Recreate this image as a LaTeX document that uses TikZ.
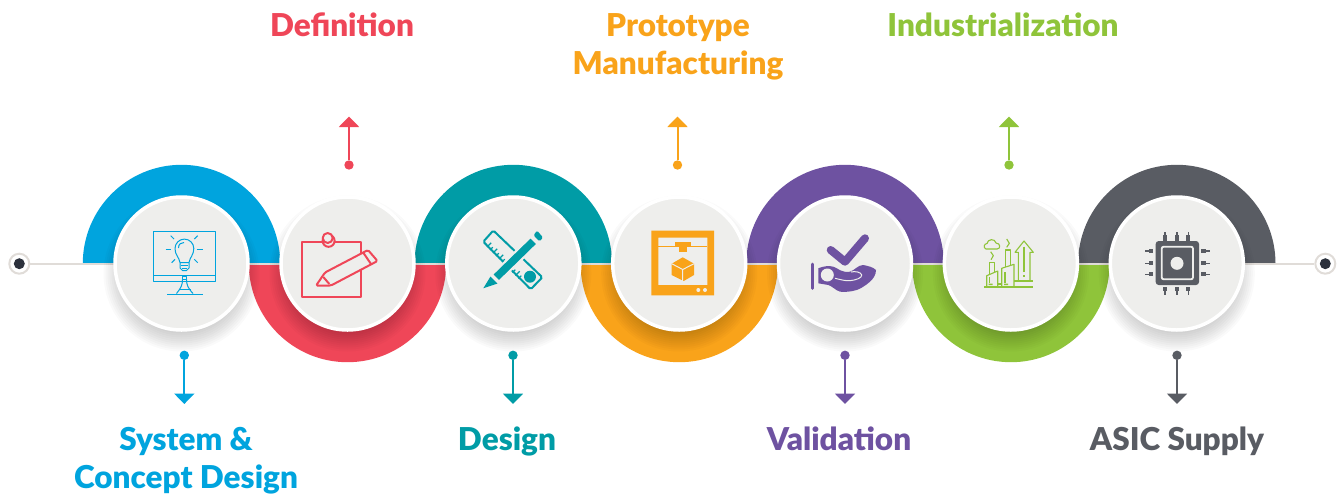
\documentclass[tikz,border=0pt]{standalone}
\usepackage{fontspec}
\setmainfont[BoldFont={Lato Black}]{Lato}
\usetikzlibrary{arrows.meta,positioning}
\definecolor{cblue}{HTML}{00A4DE}
\definecolor{cred}{HTML}{EF4658}
\definecolor{cteal}{HTML}{009CA6}
\definecolor{corange}{HTML}{F9A31A}
\definecolor{cviolet}{HTML}{6E52A1}
\definecolor{cgreen}{HTML}{8FC43A}
\definecolor{cslate}{HTML}{595C63}
\definecolor{cdisc}{HTML}{EEEEEC}
\definecolor{cseam}{HTML}{E0DCD8}
\definecolor{cink}{HTML}{2C313C}
\tikzset{
    stage/.style={circle, draw=white, fill=cdisc, line width=3.5pt, minimum size=133pt, inner sep=0pt},
    bead/.style={circle, inner sep=0pt, minimum size=9.4pt},
    endbead/.style={circle, draw=cseam, fill=white, line width=2pt, minimum size=20pt, inner sep=0pt},
    endcore/.style={circle, fill=cink, minimum size=11pt, inner sep=0pt},
    stem/.style={line width=2pt, -{Triangle[width=20pt,length=10.5pt]}},
    caption/.style={font=\fontsize{31.5}{38}\selectfont\bfseries, align=center, inner sep=0pt, anchor=base},
    thinicon/.style={line width=1pt, line join=round},
    midicon/.style={line width=2pt, line join=round}
}
\begin{document}
\begin{tikzpicture}[x=1pt,y=-1pt]
	\useasboundingbox (0,0) rectangle (1339,496);
	\foreach \x/\c in {181.5/cblue,513.3/cteal,845/cviolet,1176.8/cslate}
		\fill[\c] (\x-98.7,263.5) arc[start angle=180,end angle=360,radius=98.7] -- cycle;
	\foreach \x/\c in {347.5/cred,679.2/corange,1010.9/cgreen}
		\fill[\c] (\x-98.7,263.5) arc[start angle=180,end angle=0,radius=98.7] -- cycle;
	\node[endbead] (startbead) at (19.3,263.7) {};
	\node[endbead] (endbead) at (1325.3,263.7) {};
	\node[endcore] (startcore) at (startbead) {};
	\node[endcore] (endcore) at (endbead) {};
	\draw[cseam, line width=1.6pt] (startbead) -- (endbead);
	\foreach \x in {181.5,347.5,513.3,679.2,845,1010.9,1176.8}
		\foreach \r in {58,60,...,78}
			\fill[black, opacity=0.02] (\x,273.5) circle[radius=\r];
	\foreach \x/\n in {181.5/1,347.5/2,513.3/3,679.2/4,845/5,1010.9/6,1176.8/7}
		\node[stage] (stage\n) at (\x,263.5) {};

	\foreach \n/\x/\c in {1/184.3/cblue,3/513/cteal,5/845/cviolet,7/1177/cslate} {
		\node[bead, fill=\c] (bead\n) at (\x,355.3) {};
		\coordinate (tip\n) at (\x,404);
		\draw[stem, \c] (bead\n) -- (tip\n);
	}
	\foreach \n/\x/\c in {2/349/cred,4/677.5/corange,6/1009/cgreen} {
		\node[bead, fill=\c] (bead\n) at (\x,165) {};
		\coordinate (tip\n) at (\x,116.5);
		\draw[stem, \c] (bead\n) -- (tip\n);
	}

	\node[caption, cblue] (label1) at (186,488) {System \&\\Concept Design};
	\node[caption, cred] (label2) at (342,36) {Definition};
	\node[caption, cteal] (label3) at (507,450) {Design};
	\node[caption, corange] (label4) at (678,74) {Prototype\\Manufacturing};
	\node[caption, cviolet] (label5) at (839,450) {Validation};
	\node[caption, cgreen] (label6) at (1003,36) {Industrialization};
	\node[caption, cslate] (label7) at (1177,450) {ASIC Supply};

	\begin{scope}[thinicon, cblue]
		\draw (153.3,231.7) rectangle (215.7,281);
		\draw (153.3,275.7) -- (215.7,275.7);
		\draw (182.8,276) rectangle (186,279.5);
		\draw (167,294) -- (203,294);
		\draw (176.5,293.5) .. controls (181,288) and (182.5,285) .. (182.5,279.5);
		\draw (193,293.5) .. controls (188,288) and (186.5,285) .. (186.5,279.5);
		\draw (178.5,289.5) -- (190.5,289.5);
		\draw (180,262.5) .. controls (179,257) and (175,255) .. (175,248.5) arc[start angle=180,end angle=360,radius=9.4] .. controls (193.8,255) and (190,257) .. (189,262.5);
		\draw (180,262.5) -- (189,262.5) -- (189,268) -- (186.5,270.5) -- (182.5,270.5) -- (180,268) -- cycle;
		\draw (181,265.5) -- (188,265.5) (182,268) -- (187,268);
		\draw (178.5,248) .. controls (178.5,244) and (181,242.5) .. (184,242.5);
		\draw (165.7,249.3) -- (170.7,249.3) (196.7,249.3) -- (202.7,249.3);
		\draw (170.7,235.7) -- (174,239) (197.7,235.7) -- (194.3,239);
		\draw (171.7,262.7) -- (175,259.3) (197.7,262.7) -- (194.3,259.3);
	\end{scope}

	\begin{scope}[midicon, cred]
		\draw (302.3,241.7) rectangle (361,296.7);
		\draw[fill=cdisc] (328.6,240.8) circle[radius=6];
		\draw[fill=cdisc] (327.7,238) circle[radius=5];
		\draw[fill=cdisc, rounded corners=1.5pt] (316,285.7) -- (325,272.5) -- (368,250) -- (377.5,261) -- (331,285.5) -- cycle;
		\draw (363.5,253) -- (371,264);
		\draw (323.3,277) -- (329.3,284);
	\end{scope}

	\begin{scope}[cteal]
		\draw[line width=2pt, rounded corners=1.5pt] (493.3,230.5) -- (483.3,241.7) -- (530.7,289.3) -- (542.3,277.3) -- cycle;
		\foreach \k/\l in {0/6,1/4,2/6,3/4,4/6,5/4,6/6}
			\draw[line width=1.1pt] (487+3*\k,247+3*\k) -- ++(\l*.7,-\l*.7);
		\foreach \k/\l in {0/6,1/4,2/6,3/4}
			\draw[line width=1.1pt] (509.5+3*\k,269.5+3*\k) -- ++(\l*.7,-\l*.7);
		\fill (530,276.7) circle[radius=6];
		\fill[draw=cdisc, line width=2pt] (530.5,237) -- (537.5,244) -- (499,281.5) -- (492,274.5) -- cycle;
		\fill (490.5,276.5) -- (497.5,283.5) -- (483.3,288.3) -- cycle;
		\fill[rounded corners=1.5pt] (533.5,235.5) -- (539.5,241.5) -- (543,237.5) -- (537,230.5) -- cycle;
	\end{scope}

	\begin{scope}[corange]
		\fill[even odd rule] (651.3,230.7) rectangle (714,295.3) (658.3,237.7) rectangle (707.3,285);
		\fill (658.3,245.6) rectangle (707.3,247.4);
		\fill (675,241.7) rectangle (690.7,246.7);
		\fill (679.3,246.7) rectangle (686.7,251.7);
		\fill (682.7,257.3) -- (694,263.7) -- (694,275) -- (683.7,281) -- (671.7,275) -- (671.7,263.7) -- cycle;
		\draw[cdisc, line width=1pt] (671.7,263.7) -- (682.7,269.5) -- (694,263.7) (682.7,269.5) -- (682.7,281);
		\fill[cdisc] (698.3,290) circle[radius=2] (705,290) circle[radius=2];
	\end{scope}

	\begin{scope}[cviolet]
		\draw[line width=8pt, line cap=round, line join=round] (830.7,250) -- (845,261.7) -- (865,238.3);
		\draw[line width=2.7pt, line cap=round] (812.7,264) -- (812.7,288.5);
		\fill (818.3,268.3) .. controls (824,266) and (829,265.5) .. (833.3,266.7) .. controls (838,268) and (841,273) .. (850,271.7) .. controls (855,270) and (858,265) .. (863.3,265) .. controls (868,266) and (873,267) .. (876,270) .. controls (876,275) and (873,279) .. (870,281.7) .. controls (865,286) and (860,289) .. (856.7,290) .. controls (850,292) and (845,292) .. (840,291.7) .. controls (835,290) and (832,286) .. (828.3,285) -- (818.3,283.3) -- cycle;
		\fill[cdisc] (827.3,275) circle[radius=6.5];
		\draw[cdisc, line width=1pt] (835,278.3) .. controls (842,280) and (846,281) .. (850,280.7) .. controls (856,280) and (862,278) .. (861.7,275) .. controls (861,272) and (855,271) .. (851,272);
	\end{scope}

	\begin{scope}[line width=1.1pt, line join=round, cgreen]
		\draw (984.3,287) -- (1033.3,287) (1014,281) -- (1033.3,281);
		\draw (1018.3,281) -- (1018.3,252.3) -- (1015,252.3) -- (1024,241) -- (1033.3,252.3) -- (1030,252.3) -- (1030,281);
		\draw[line width=2pt] (1024,246.7) -- (1024,272) (1024,275) -- (1024,277);
		\draw (989.3,274.5) -- (989.3,262.3) -- (994.3,262.3) -- (994.3,272.5);
		\draw (986.7,287) -- (986.7,275.7) -- (997.7,271) -- (997.7,287);
		\draw (997.7,284) -- (1001.7,284);
		\draw (1005.7,266.8) -- (1005.7,250) -- (1010.3,250) -- (1010.3,265.5);
		\draw (1001.7,287) -- (1001.7,268.3) -- (1014,264.3) -- (1014,287);
		\draw[line width=1.8pt] (989.5,277) -- (989.5,283) (1005,272) -- (1005,283);
		\fill (988.5,283.5) rectangle (992.5,285) (1004,283.5) rectangle (1008,285);
		\draw (986,249) .. controls (983,248) and (984,243.5) .. (987,243.5) .. controls (987.5,239) and (995,238) .. (996,243) .. controls (1000.5,243) and (1001,249) .. (997,249) -- cycle;
		\draw (990.7,251.7) -- (993.3,255.7) -- (991,259.7);
		\draw (1006.7,239) -- (1009.3,243.3) -- (1006.7,247.3);
	\end{scope}

	\begin{scope}[cslate]
		\fill[rounded corners=3pt] (1155.7,241) rectangle (1199,285);
		\draw[cdisc, line width=1.8pt, rounded corners=2pt] (1161.7,246.7) rectangle (1193,279.3);
		\fill[cdisc] (1177,263.3) circle[radius=6.5];
		\foreach \p in {1165,1177,1188.3} {
			\fill (\p-2,235) rectangle (\p+2,241);
			\fill (\p-.8,231.7) rectangle (\p+.8,235);
			\fill (\p-2,286.5) rectangle (\p+2,291);
			\fill (\p-.8,291) rectangle (\p+.8,295);
		}
		\foreach \p in {251,263.3,274.3} {
			\fill (1149,\p-2) rectangle (1153.3,\p+2);
			\fill (1145,\p-.8) rectangle (1149,\p+.8);
			\fill (1201.3,\p-2) rectangle (1205.5,\p+2);
			\fill (1205.5,\p-.8) rectangle (1209.7,\p+.8);
		}
	\end{scope}
\end{tikzpicture}
\end{document}
